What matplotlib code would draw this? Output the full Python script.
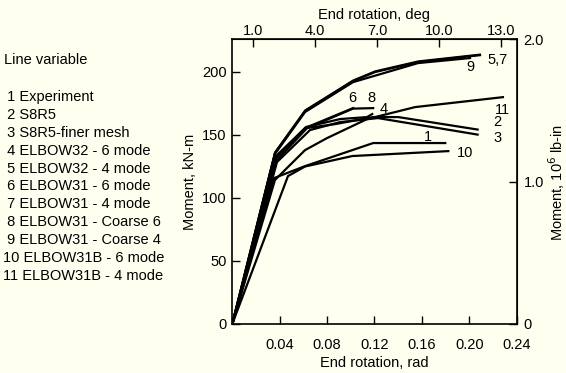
import matplotlib
matplotlib.use("Agg")
import matplotlib.pyplot as plt
import math

plt.rcParams['font.family'] = ['Liberation Sans', 'DejaVu Sans']

# ---- data (rotation in rad, moment in kN-m) ----
c1_x = [0, 0.0352, 0.0614, 0.1189, 0.1797]
c1_y = [0, 115.7, 125.2, 143.5, 143.5]
c2_x = [0, 0.0377, 0.0631, 0.0867, 0.1189, 0.1400, 0.2070]
c2_y = [0, 130.0, 155.4, 158.5, 164.1, 164.1, 154.2]
c3_x = [0, 0.0377, 0.0656, 0.0909, 0.1229, 0.2070]
c3_y = [0, 128.4, 153.8, 160.1, 163.3, 150.2]
c4_x = [0, 0.0369, 0.0622, 0.0909, 0.1137, 0.1181]
c4_y = [0, 131.6, 156.2, 162.5, 164.1, 166.5]
c5_x = [0, 0.0360, 0.0614, 0.1019, 0.1204, 0.1567, 0.2090]
c5_y = [0, 135.6, 168.8, 192.6, 199.8, 207.7, 213.2]
c6_x = [0, 0.0369, 0.0614, 0.1019]
c6_y = [0, 133.2, 155.4, 171.2]
c7_x = [0, 0.0362, 0.0616, 0.1021, 0.1206, 0.1569, 0.2090]
c7_y = [0, 136.1, 169.4, 193.1, 200.3, 208.2, 213.6]
c8_x = [0, 0.0369, 0.0614, 0.1019, 0.1189]
c8_y = [0, 132.4, 154.6, 170.8, 171.2]
c9_x = [0, 0.0360, 0.0614, 0.1019, 0.1567, 0.2006]
c9_y = [0, 134.8, 168.1, 191.8, 206.9, 210.9]
c10_x = [0, 0.0470, 0.0614, 0.1013, 0.1823]
c10_y = [0, 117.3, 124.9, 133.2, 137.1]
c11_x = [0, 0.0360, 0.0614, 0.0799, 0.1137, 0.1542, 0.2284]
c11_y = [0, 114.2, 137.9, 147.4, 162.5, 172.0, 179.9]

curve_labels = ["5,7", "9", "6", "8", "4", "11", "2", "3", "1", "10"]
label_x = [0.2149, 0.1972, 0.0976, 0.1137, 0.1247, 0.2220, 0.2205, 0.2205, 0.1615, 0.1893]
label_y = [209.3, 203.7, 179.2, 179.2, 170.8, 169.8, 160.1, 147.7, 148.5, 135.6]

legend_title = "Line variable"
legend_items = [" 1 Experiment", " 2 S8R5", " 3 S8R5-finer mesh",
                " 4 ELBOW32 - 6 mode", " 5 ELBOW32 - 4 mode",
                " 6 ELBOW31 - 6 mode", " 7 ELBOW31 - 4 mode",
                " 8 ELBOW31 - Coarse 6", " 9 ELBOW31 - Coarse 4",
                "10 ELBOW31B - 6 mode", "11 ELBOW31B - 4 mode"]

x_ticks = [0.04, 0.08, 0.12, 0.16, 0.20, 0.24]
x_ticklabels = ["0.04", "0.08", "0.12", "0.16", "0.20", "0.24"]
y_ticks = [0, 50, 100, 150, 200]
deg_ticks = [1.0, 4.0, 7.0, 10.0, 13.0]
deg_ticklabels = ["1.0", "4.0", "7.0", "10.0", "13.0"]
r_ticks = [0, 1.0, 2.0]
r_ticklabels = ["0", "1.0", "2.0"]

KNM_TO_MLBIN = 0.0088507
bg = '#fffff0'
fs = 10.5

fig = plt.figure(figsize=(5.66, 3.73), dpi=100, facecolor=bg)
ax = fig.add_axes([0.4104, 0.1314, 0.5025, 0.764], facecolor=bg)

curves = [(c1_x, c1_y), (c2_x, c2_y), (c3_x, c3_y), (c4_x, c4_y), (c5_x, c5_y),
          (c6_x, c6_y), (c7_x, c7_y), (c8_x, c8_y), (c9_x, c9_y), (c10_x, c10_y),
          (c11_x, c11_y)]
for cx, cy in curves:
    ax.plot(cx, cy, color='black', lw=1.6, solid_joinstyle='miter')

ax.set_xlim(0, 0.24)
ax.set_ylim(0, 226)
ax.set_xticks(x_ticks)
ax.set_xticklabels(x_ticklabels, fontsize=fs)
ax.set_yticks(y_ticks)
ax.set_yticklabels([str(v) for v in y_ticks], fontsize=fs)
ax.tick_params(direction='in', length=6, width=1, colors='black')
ax.tick_params(axis='x', pad=10)
ax.tick_params(axis='y', pad=4)
ax.set_xlabel("End rotation, rad", fontsize=fs, labelpad=3)
for s in ax.spines.values():
    s.set_linewidth(1.2)

top = ax.secondary_xaxis('top', functions=(lambda r: r * 180 / math.pi,
                                           lambda d: d * math.pi / 180))
top.set_xticks(deg_ticks)
top.set_xticklabels(deg_ticklabels, fontsize=fs)
top.tick_params(direction='in', length=6, width=1, pad=1)
top.set_xlabel("End rotation, deg", fontsize=fs, labelpad=3)

right = ax.secondary_yaxis('right', functions=(lambda m: m * KNM_TO_MLBIN,
                                               lambda v: v / KNM_TO_MLBIN))
right.set_yticks(r_ticks)
right.set_yticklabels(r_ticklabels, fontsize=fs)
right.tick_params(direction='in', length=6, width=1, pad=5)

fig.text(190 / 566, 1 - 182 / 373, "Moment, kN-m", rotation=90, fontsize=fs,
         ha='center', va='center')
fig.text(557 / 566, 1 - 182 / 373, "Moment, 10$^6$ lb-in", rotation=90, fontsize=fs,
         ha='center', va='center')

for t, lx, ly in zip(curve_labels, label_x, label_y):
    ax.text(lx, ly, t, fontsize=fs, ha='left', va='center')

fig.text(4 / 566, 1 - 60 / 373, legend_title, fontsize=fs, ha='left', va='center')
for i, item in enumerate(legend_items):
    fig.text(3 / 566, 1 - (97 + 17.9 * i) / 373, item, fontsize=fs,
             ha='left', va='center')

fig.savefig("out.png", dpi=100, facecolor=bg)
